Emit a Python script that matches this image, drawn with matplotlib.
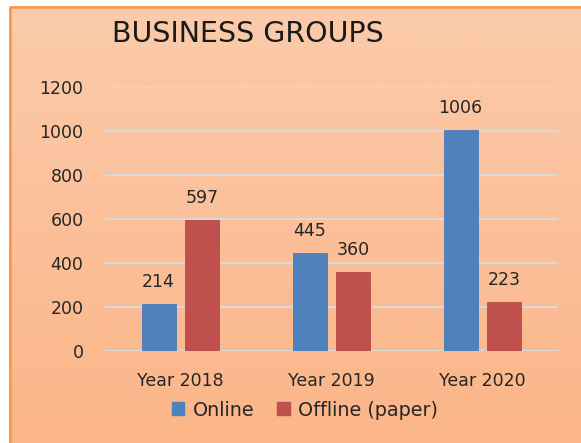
import numpy as np
import matplotlib
matplotlib.use("Agg")
import matplotlib.pyplot as plt
from matplotlib.patches import Rectangle, Patch

categories = ["Year 2018", "Year 2019", "Year 2020"]
online = [214, 445, 1006]
offline = [597, 360, 223]
series_names = ["Online", "Offline (paper)"]
yticks = [0, 200, 400, 600, 800, 1000, 1200]

plt.rcParams['font.family'] = ['DejaVu Sans']

W, H = 581, 443
fig = plt.figure(figsize=(W/100, H/100), dpi=100)
fig.patch.set_facecolor('white')

# gradient background panel
bg = fig.add_axes([0, 0, 1, 1], zorder=-10)
bg.set_xlim(0, W); bg.set_ylim(H, 0); bg.axis('off')
top = np.array([251, 203, 171]) / 255
bot = np.array([251, 181, 136]) / 255
t = np.linspace(0, 1, 256)[:, None, None]
grad = top * (1 - t) + bot * t
bg.imshow(grad, extent=[9, W + 5, H + 5, 6], aspect='auto', interpolation='bilinear')
bg.add_patch(Rectangle((9.5, 6.5), W + 10, H + 10, fill=False, edgecolor='#F79646', lw=1.8))

ax = fig.add_axes([105/W, 1 - 351/H, (558 - 105)/W, (351 - 87)/H])
ax.set_facecolor('none')
x = np.arange(len(categories))
w = 0.225
off = 0.145
b1 = ax.bar(x - off, online, w, color='#4F81BD', edgecolor='#4A7AB5', lw=0.6, zorder=3, label=series_names[0])
b2 = ax.bar(x + off, offline, w, color='#C0504D', edgecolor='#B84B48', lw=0.6, zorder=3, label=series_names[1])
for bars, vals in ((b1, online), (b2, offline)):
    for r, v in zip(bars, vals):
        ax.annotate(str(v), (r.get_x() + r.get_width()/2, v), xytext=(0, 12),
                    textcoords='offset points', ha='center', va='baseline',
                    fontsize=12.5, color='#262626')

ax.set_xlim(-0.5, 2.5)
ax.set_ylim(0, 1200)
ax.set_yticks(yticks)
ax.set_yticklabels([str(v) for v in yticks], fontsize=12.5, color='#262626')
ax.set_xticks(x)
ax.set_xticklabels(categories, fontsize=12.5, color='#262626')
ax.tick_params(axis='both', length=0)
ax.tick_params(axis='y', pad=15.5)
ax.tick_params(axis='x', pad=15)
ax.grid(axis='y', color='#D9D9D9', lw=1.5, zorder=0)
for s in ax.spines.values():
    s.set_visible(False)

fig.text(112/W, 1 - 42/H, "BUSINESS GROUPS", fontsize=20.5, ha='left', va='baseline', color='#1a1a1a')

fig.legend(handles=[Patch(color='#4F81BD'), Patch(color='#C0504D')], labels=series_names,
           loc='center', bbox_to_anchor=(305/W, 1 - 410/H), ncol=2, frameon=False,
           fontsize=13.8, handlelength=0.65, handleheight=0.65, handletextpad=0.45,
           columnspacing=1.2, labelcolor='#262626')

fig.savefig('out.png', dpi=100)
